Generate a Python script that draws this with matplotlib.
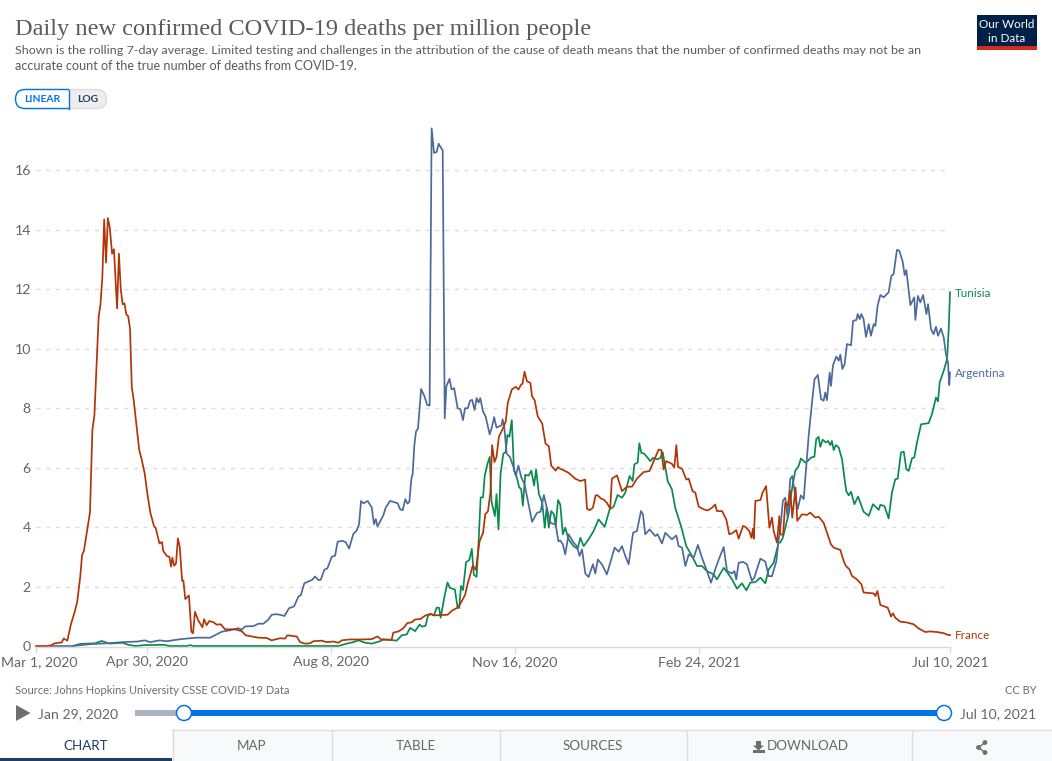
"""
Daily new confirmed COVID-19 deaths per million people (Our World in Data look).
Values read off the reference picture.
"""

import matplotlib
matplotlib.use("Agg")
import matplotlib.pyplot as plt
from matplotlib.patches import FancyBboxPatch, Rectangle, Circle, Polygon
from matplotlib.transforms import ScaledTranslation

# ---------------------------------------------------------------------------
# Data: days since Mar 1, 2020 and deaths per million
# ---------------------------------------------------------------------------

france_days = [0, 6, 8.6, 10, 14, 15, 17, 19, 21, 22.4, 24, 25, 26, 27.5, 29.3, 30, 30.6, 31.7, 33, 34,
               35, 36, 37, 38, 39, 40, 41.3, 42.3, 44, 45, 46, 47, 48, 49, 50, 51, 52, 53, 54.6, 56,
               57.4, 59, 60.4, 62, 64, 65, 67, 68.4, 69, 71, 72.4, 73.3, 74, 75, 76, 77, 78, 79.3, 80, 81,
               83, 84.3, 85.2, 86.3, 88, 90.3, 91.2, 92.6, 94, 96.3, 98, 100.3,
               102.6, 108, 111.6, 113.8, 117.1, 120.7, 125.2, 127.9, 132.4, 135.2, 136.4, 141.5, 143.3, 146, 148.7,
               150.5, 155, 157.8, 161.4, 164.1, 165.9, 170.4, 176.8, 182.2, 185.3, 187.6, 193, 193.9, 196.7, 199.4,
               201.5, 203.9, 205.7, 208.6, 211.4, 214.1, 216, 223.3, 226, 228.8, 230.6, 232.8, 234.3, 236.1,
               237, 238.7, 240.7, 242.6, 243.8, 245.3, 246.6, 247.5, 248.8, 249.9, 251.2, 253, 254.9, 256, 258.2,
               260.4, 261.8, 263.3, 264, 265.1, 266.4, 268.3, 269.2, 270.6, 272.3, 274.7, 276.5, 278.3, 279.6, 282, 283.3,
               284.5, 285.4, 289, 292.6, 295.4, 298, 299, 300.4, 302.2, 303.7, 304.8, 306.6, 308, 309.8, 311.6,
               312.5, 315.3, 318, 320.7, 323.4, 326.1, 329.7, 333, 335.2, 337.9, 339.3, 340.6, 342, 345.1, 346.4,
               347.5, 348.4, 350.6, 352.9, 354.2, 356.3, 357.8, 359.6, 362.3, 364.5, 366.8, 368.6, 369.5, 372.3,
               374.6, 376.2, 377.7, 380, 381.3, 383.7, 384.9, 387.1, 388.2, 389.1, 389.5, 390.4, 393.1, 394.3,
               396.2, 398, 399.4, 400.3, 402.1, 403.4,
               403.9, 405.4, 406.6, 407.9, 409.3, 410.4, 412.2, 413.1, 415.7, 418.4, 420.2, 422.9, 424.7, 427.4,
               429.2, 431.4, 432.9, 436.5, 438.3, 439.5, 441.4, 442.8, 445.5, 447.9, 449.1, 454.6, 455.5, 456.6,
               458.2, 462.2, 464, 465.1, 466.3, 469, 472.7, 476.3, 479, 482.6, 485, 489, 492.6, 495, 496]
france_vals = [0, 0, .03, .09, .12, .25, .18, .74, 1.15, 1.5, 2.33, 3.06, 3.2, 3.8, 4.5, 6.03, 7.27, 7.77, 9.6, 11.08,
               11.5, 12.4, 14.35, 12.9, 14.4, 14.1, 13.2, 13.35, 11.36, 13.2, 12.0, 11.5, 11.53, 11.16, 11.1, 10.7, 8.7, 8.28, 7.4, 6.6,
               6.26, 5.8, 5.14, 4.5, 4.04, 3.96, 3.45, 3.5, 3.2, 3.03, 3.0, 2.67, 2.97, 2.7, 2.78, 3.62, 3.34, 2.19, 2.2, 1.58,
               1.7, .48, .43, 1.15, .87, .63, .9, .7, .84, .8, .72, .73,
               .56, .56, .5, .36, .32, .28, .27, .19, .26, .25, .36, .32, .13, .08, .09,
               .16, .18, .13, .15, .11, .19, .22, .22, .23, .32, .21, .21, .45, .49, .6,
               .77, .8, .89, .91, 1.03, 1.08, 1.03, 1.05, 1.2, 1.29, 1.46, 1.71, 2.11, 2.5,
               2.71, 2.56, 3.52, 3.81, 4.43, 4.54, 5.17, 6.76, 6.19, 6.36, 7.04, 7.27, 7.55, 8.17, 8.63,
               8.72, 8.63, 8.8, 8.82, 9.23, 8.91, 8.85, 8.4, 8.27, 7.72, 7.49, 6.81, 6.72, 6.07, 5.9, 6.02,
               5.96, 5.94, 5.83, 5.63, 5.55, 5.6, 4.62, 4.57, 4.65, 5.07, 5.07, 4.96, 4.93, 4.82, 4.62,
               5.63, 5.74, 5.21, 5.36, 5.36, 5.63, 5.85, 5.89, 6.22, 6.61, 6.59, 5.94, 6.22, 6.13, 6.0,
               6.76, 6.03, 5.96, 5.6, 5.63, 5.21, 5.16, 4.69, 4.6, 4.56, 4.65, 4.76, 4.54, 4.54,
               4.26, 3.76, 3.79, 3.9, 3.61, 4.04, 4.01, 3.87, 3.64, 3.95, 3.61, 4.88, 4.91, 5.16,
               5.38, 3.98, 4.32, 3.87, 3.48, 4.37,
               3.76, 3.74, 4.83, 4.71, 5.22, 4.32, 5.33, 4.21, 4.43, 4.41, 4.49, 4.32, 4.35, 4.15,
               3.82, 3.42, 3.31, 3.23, 2.86, 2.69, 2.58, 2.36, 2.24, 2.08, 1.8, 1.77, 1.68, 1.85,
               1.38, 1.29, .99, 1.1, .95, .82, .79, .73, .59, .47, .49, .47, .43, .37, .37]

argentina_days = [7.6, 20, 29, 38, 47, 55, 59, 62, 67, 71, 75, 80, 87, 94.5, 98, 100.8,
                  102.6, 105.3, 109.8, 111.6, 113.5, 118, 120.7, 123.4, 126.1, 127.9, 130.6, 132.4, 134.8, 137.3,
                  140, 142.4, 143.8, 145.6, 147.8, 150, 151.4, 153.2, 154.5, 156.5, 158.1, 160.5, 162.3, 163.7,
                  166.3, 168.1, 169.9, 172.2, 174, 175.3, 176.4, 177.7, 180, 182.2, 183.4, 184.4, 185.3, 188.5,
                  189.8, 192.1, 193.9, 196.3,
                  197.6, 199, 200.4, 201.6, 202.6, 203.7, 204.4, 205.3, 206.2, 207.3, 209, 210.8, 212.3, 213.6,
                  214.7, 216, 217.4, 218.5, 220, 220.7, 221.8, 222.7, 224.4, 225.5, 226.9, 228.8, 230.3, 231.7,
                  232.8, 234.3, 235.6, 236.7, 238, 239.1, 240.2, 241.1, 242.6, 244, 246.2, 247.5, 248.6, 249.9,
                  252.7, 253.2, 254.1, 255.4, 257.2, 259.1, 260.4, 261.8, 263.3, 265.1, 267.3, 269.2, 271.9, 273.8,
                  275.6, 277.4, 279.3, 282, 283.5,
                  284.5, 285.9, 287.2, 289, 291.7, 293.5, 295, 296.3, 298.1, 299.9, 302.2, 303.5, 304.9, 307.1,
                  309.8, 314, 316.2, 318, 319.8, 321.6, 324, 326.1, 328.3, 329.4, 330.6, 333, 336.1, 337.3, 339.7,
                  341.5, 345.1, 347.5, 348.7, 350.6, 352.4, 354.2, 356.9, 359.2, 361.4, 364.1, 366.3, 368.6, 370.5,
                  373.2, 375, 377.7, 379, 380, 381.3, 383.7, 385.8, 388.5, 389.8, 393.1, 395.8, 397.6, 399.4, 401.8, 403,
                  403.9, 405.3, 406.6, 407.9, 409.3, 410.4, 411.5, 413.3, 415.1, 416.6, 418, 419.3, 421.1, 422.5,
                  424.3, 426, 427.4, 428.3, 429.2, 430.7, 431.4, 432.5, 434.3, 435.6, 436.5, 437.6, 438.8, 440.1,
                  442.3, 443.4, 445.2, 445.9, 447, 447.9, 449.1, 450.4, 451.9, 453.1, 454.6, 455.5, 456.7, 458.2,
                  460, 462.7, 464.2, 465.4, 467.2, 468.5, 470.3, 471.4, 472.3, 474.5, 476.6, 477.2, 478.6, 479.9,
                  481.4, 483.2, 484.1, 485.7, 487.1, 488.4, 489.5, 491.1, 492.6, 493.8, 494.9, 495.6, 496]
argentina_vals = [0, 0, .06, .09, .13, .15, .19, .13, .19, .16, .2, .24, .28, .28, .39, .48,
                  .5, .53, .6, .55, .66, .67, .75, .75, .89, 1.05, 1.07, 1.05, 1.01, 1.27,
                  1.33, 1.66, 1.72, 2.11, 2.17, 2.23, 2.34, 2.22, 2.23, 2.57, 2.61, 3.0, 3.04, 3.51,
                  3.54, 3.49, 3.28, 3.77, 3.88, 4.1, 4.88, 4.8, 4.88, 4.66, 4.1, 4.27, 4.02, 4.4,
                  4.66, 4.88, 4.85, 4.8,
                  4.6, 4.57, 4.94, 4.79, 4.85, 5.62, 5.79, 6.75, 7.21, 7.32, 8.65, 8.4, 8.11, 8.09,
                  17.42, 16.59, 16.62, 16.9, 16.74, 16.68, 7.66, 8.74, 8.99, 8.63, 8.68, 8.0, 7.97, 7.6,
                  8.0, 8.0, 8.26, 8.28, 7.94, 8.34, 8.19, 8.34, 7.89, 7.72, 7.12, 7.38, 7.7, 7.35,
                  7.43, 7.63, 7.38, 6.47, 6.36, 6.02, 5.73, 6.07, 5.68, 5.45, 4.77, 4.18, 4.48, 4.52,
                  5.08, 4.6, 4.14, 4.09, 3.52,
                  3.55, 3.42, 3.08, 3.76, 3.48, 3.36, 3.03, 3.25, 2.44, 2.32, 2.75, 2.44, 2.91, 2.75,
                  2.41, 3.31, 3.17, 3.36, 3.03, 2.75, 3.81, 3.87, 4.54, 4.43, 3.76, 3.92, 3.7, 3.76, 3.45,
                  3.81, 3.59, 3.72, 3.36, 3.31, 2.69, 3.08, 2.97, 3.4, 2.97, 2.52, 2.13, 2.58, 2.91,
                  3.33, 2.52, 2.44, 2.52, 2.24, 2.8, 2.83, 2.75, 2.19, 2.3, 2.94, 2.84, 2.35, 2.35, 2.86, 3.59,
                  3.93, 4.88, 4.99, 4.32, 5.61, 5.72, 5.27, 4.6, 5.07, 4.94, 6.06, 7.07, 8.19, 8.98,
                  9.12, 8.31, 8.25, 8.53, 8.27, 9.2, 8.75, 9.45, 9.74, 9.6, 9.8, 9.32, 9.48, 10.16,
                  10.12, 10.94, 10.97, 11.17, 11, 11.17, 11, 10.4, 10.83, 10.44, 10.83, 10.77, 11.45, 11.81,
                  11.73, 11.9, 12.46, 12.51, 13.33, 13.3, 12.94, 12.48, 12.65, 11.47, 11.73, 10.97, 11.78, 11.56,
                  11.81, 11.17, 11.5, 10.66, 10.49, 10.74, 10.44, 10.68, 10.38, 9.82, 9.54, 8.78, 9.2]

tunisia_days = [20, 24, 32, 35.6, 40, 47, 50, 54, 59, 69, 72.7, 81.8, 83.6, 85.4, 105,
                164.1, 168.6, 172.2, 175, 178.6, 182.2, 186.7, 188.5, 195.7, 198.5, 201.2, 203, 205.7,
                208.2, 209.5, 211.4, 212.6, 214.1, 216, 217.4, 218.7, 219.6, 221.8,
                223.3, 224.6, 227.3, 228.8, 229.7, 230.6, 231.7, 233.4, 235.2, 236.5, 237.6, 239.1, 240.2, 241.3,
                242.6, 243.5, 245, 246.2, 247.2, 249, 249.9, 251, 252.1, 253.6, 254.9, 255.8, 256.9, 258.2, 259.4,
                260.9, 262.2, 263.3, 264.2, 265.5, 267.3, 268.8, 270.3, 271.4, 272.9, 274.7, 276.1, 277.1, 278.3,
                279.6, 281.1, 282, 283.3,
                284.5, 285.9, 287.2, 289, 291.7, 293.9, 295.4, 297.2, 299.9, 302.6, 305.3, 308.6, 311.3, 313.5,
                315.6, 318, 319.8, 322.1, 323.8, 324.7, 326.5, 327.4, 328.5, 330.1, 333.4, 334.8, 337.3, 338.8,
                340.1, 342.8, 345.1, 346.9, 350, 352.9, 356, 358.7, 361.4, 364.1, 367.7, 369.5, 373.2, 375.9,
                377.7, 380.4, 383.1, 385.5, 387.6, 390.4, 393.1, 395.8, 397.6, 400.3, 403,
                403.9, 405.3, 408.4, 410.2, 412, 413.9, 415.1, 417.5, 418.9, 420.5, 422.4, 423.4, 424.7, 425.6,
                426.9, 428.7, 429.8, 431, 431.9, 432.9, 434.1, 435.6, 437.4, 438.8, 439.7, 441, 442.3, 444.1,
                446.1, 449.1, 451.9, 454.2, 457.3, 458.2, 460.4, 462.7, 464.5, 466.3, 467.6, 469.4, 470.9, 472.3,
                473.6, 475.4, 476.6, 478.1, 480.3, 484.4, 486.2, 488.4, 489.5, 490.4, 492.6, 494.4, 495.3, 496]
tunisia_vals = [0, .07, .09, .17, .08, .11, .04, 0, .03, .04, 0, 0, .03, 0, 0,
                0, .08, .13, .19, .11, .08, .16, .23, .18, .36, .39, .61, .5,
                .72, .65, .68, 1.0, 1.08, 1.03, 1.29, 1.29, .95, 1.71,
                2.14, 1.96, 1.9, 1.29, 1.28, 2.02, 1.88, 2.82, 2.9, 3.27, 2.39, 2.33, 3.54, 5.0,
                5.0, 5.73, 6.13, 6.36, 4.86, 4.37, 5.11, 3.92, 5.79, 6.47, 6.53, 7.1, 7.04, 7.6, 5.9,
                5.68, 5.34, 5.28, 4.72, 5.76, 5.73, 5.9, 5.4, 5.94, 5.11, 4.83, 3.98, 4.66, 3.98,
                4.54, 4.43, 4.03, 4.91,
                4.76, 3.76, 3.98, 3.59, 3.36, 3.27, 3.64, 3.36, 3.59, 3.87, 4.26, 4.01, 4.6, 4.69,
                5.08, 4.99, 5.16, 5.72, 5.55, 6.11, 6.17, 6.82, 6.5, 6.47, 6.22, 6.33, 6.28, 6.33,
                6.52, 5.55, 5.27, 4.65, 4.04, 3.36, 3.03, 2.69, 2.69, 2.52, 2.41, 2.24, 2.63, 2.41,
                2.24, 1.93, 2.11, 1.87, 2.13, 2.15, 2.3, 2.11, 2.58, 2.8, 3.48,
                3.48, 3.65, 4.43, 5.27, 5.89, 6.06, 6.31, 6.17, 6.23, 6.34, 6.37, 6.96, 7.04, 6.7,
                6.94, 6.85, 6.9, 6.76, 6.9, 6.59, 6.76, 6.68, 6.29, 5.61, 5.22, 5.07, 5.19, 4.77,
                5.03, 4.52, 4.38, 4.77, 4.58, 4.75, 4.71, 4.29, 5.16, 5.61, 5.63, 6.51, 6.54, 5.95,
                5.89, 6.32, 6.34, 6.85, 7.46, 7.5, 7.8, 8.36, 8.23, 8.87, 9.26, 9.65, 10.66, 11.9]

y_ticks = [0, 2, 4, 6, 8, 10, 12, 14, 16]
x_tick_days = [0, 60, 160, 260, 360, 496]
x_tick_labels = ["Mar 1, 2020", "Apr 30, 2020", "Aug 8, 2020", "Nov 16, 2020", "Feb 24, 2021", "Jul 10, 2021"]

FRANCE = "#b13507"
ARGENTINA = "#4c6a9c"
TUNISIA = "#0b8a4d"
GREY = "#5b5b5b"
TICK_GREY = "#666666"
BLUE = "#0073e6"
NAVY = "#1d3d63"

plt.rcParams['font.family'] = ['Lato', 'DejaVu Sans']

W, H = 1052, 761
fig = plt.figure(figsize=(W / 100, H / 100), dpi=100)

# overlay in pixel coordinates for the page furniture
page = fig.add_axes([0, 0, 1, 1])
page.set_xlim(0, W)
page.set_ylim(H, 0)
page.axis('off')

# ---------------------------------------------------------------------------
# Chart
# ---------------------------------------------------------------------------
PX_PER_UNIT = 29.72
X0, X1, Y0, YTOP = 36, 950, 646, 120
ax = fig.add_axes([X0 / W, (H - Y0) / H, (X1 - X0) / W, (Y0 - YTOP) / H])
ax.patch.set_alpha(0)
ax.set_xlim(0, 496)
ax.set_ylim(0, (Y0 - YTOP) / PX_PER_UNIT)
for s in ['top', 'right', 'left']:
    ax.spines[s].set_visible(False)
ax.spines['bottom'].set_color('#d9d9d9')
ax.spines['bottom'].set_linewidth(1.0)
ax.spines['bottom'].set_position(('outward', 1))

ax.set_yticks(y_ticks)
ax.set_xticks(x_tick_days)
ax.set_xticklabels(x_tick_labels)
ax.tick_params(axis='y', length=0, pad=3.8, labelsize=10.2, labelcolor=TICK_GREY)
ax.tick_params(axis='x', length=4, width=1, color='#d9d9d9', pad=2.2, labelsize=10.2, labelcolor=TICK_GREY)
ax.yaxis.grid(True, color='#dddddd', linestyle=(0, (3, 4)), linewidth=1.0)
ax.set_axisbelow(True)
# the zero line has no dashes
ax.get_ygridlines()[0].set_visible(False)

# first label sits a little right of its tick so it stays on the page
first = ax.get_xticklabels()[0]
first.set_transform(first.get_transform() + ScaledTranslation(3.5 / 100, 0, fig.dpi_scale_trans))

ax.plot(tunisia_days, tunisia_vals, color=TUNISIA, lw=1.25, clip_on=False, solid_joinstyle='round')
ax.plot(argentina_days, argentina_vals, color=ARGENTINA, lw=1.25, clip_on=False, solid_joinstyle='round')
ax.plot(france_days, france_vals, color=FRANCE, lw=1.25, clip_on=False, solid_joinstyle='round')

# series labels
for name, val, col in [("Tunisia", tunisia_vals[-1], TUNISIA),
                       ("Argentina", argentina_vals[-1], ARGENTINA),
                       ("France", france_vals[-1], FRANCE)]:
    ax.annotate(name, xy=(496, val), xytext=(3.4, -0.7), textcoords='offset points',
                color=col, fontsize=8.4, va='center', ha='left', annotation_clip=False)

# ---------------------------------------------------------------------------
# Header
# ---------------------------------------------------------------------------
page.text(15, 34.5, "Daily new confirmed COVID-19 deaths per million people",
          family=['Liberation Serif'], fontsize=17.6, color=GREY, va='baseline')
page.text(15, 53.5, "Shown is the rolling 7-day average. Limited testing and challenges in the attribution "
          "of the cause of death means that the number of confirmed deaths may not be an",
          fontsize=8.97, color=GREY, va='baseline')
page.text(15, 69.5, "accurate count of the true number of deaths from COVID-19.",
          fontsize=9.07, color=GREY, va='baseline')

# logo
page.add_patch(Rectangle((976.5, 15), 60.5, 31, fc='#002147', ec='none'))
page.add_patch(Rectangle((976.5, 46), 60.5, 4, fc='#d42b21', ec='none'))
page.text(1006.7, 24.7, "Our World", color='white', fontsize=8.4, ha='center', va='center')
page.text(1006.7, 38, "in Data", color='white', fontsize=8.4, ha='center', va='center')

# linear / log toggle
toggle_l = FancyBboxPatch((15.5, 89.5), 91, 19, boxstyle="round,pad=0,rounding_size=9.5",
                          fc='#eeeeee', ec='#dddddd', lw=1)
page.add_patch(toggle_l)
toggle_on = FancyBboxPatch((15.5, 89.5), 80, 19, boxstyle="round,pad=0,rounding_size=9.5",
                           fc='white', ec=BLUE, lw=1)
page.add_patch(toggle_on)
toggle_on.set_clip_path(Rectangle((10, 85), 58.7, 30, transform=page.transData))
page.plot([68.5, 68.5], [89.5, 108.5], color=BLUE, lw=1)
page.text(42.3, 99.5, "LINEAR", color=BLUE, fontsize=7.4, fontweight='bold', ha='center', va='center')
page.text(87.7, 99.5, "LOG", color=NAVY, fontsize=7.4, fontweight='bold', ha='center', va='center')

# ---------------------------------------------------------------------------
# Footer
# ---------------------------------------------------------------------------
page.text(15, 690, "Source: Johns Hopkins University CSSE COVID-19 Data", fontsize=8.0,
          color='#6e6e6e', va='center')
page.text(1037, 690, "CC BY", fontsize=8.0, color='#6e6e6e', va='center', ha='right')

# timeline slider
page.add_patch(Polygon([(16, 705), (30.5, 713), (16, 721)], closed=True, fc='#6e6e6e', ec='none'))
page.text(38.5, 714, "Jan 29, 2020", fontsize=10.1, color=TICK_GREY, va='center')
page.text(1036, 714, "Jul 10, 2021", fontsize=10.1, color=TICK_GREY, va='center', ha='right')
page.add_patch(Rectangle((134.5, 710), 50, 6, fc='#a9b3c1', ec='none'))
page.add_patch(Rectangle((184, 710), 760, 6, fc=BLUE, ec='none'))
for cx in [184, 944]:
    page.add_patch(Circle((cx, 713), 7.5, fc='white', ec=BLUE, lw=1.1, zorder=3))

# tabs
page.add_patch(Rectangle((172, 730), W - 172, 31, fc='#f8f9fa', ec='none'))
page.plot([172, W], [730, 730], color='#dddddd', lw=1)
for sx in [172.5, 331.5, 499.5, 686.5, 911.5]:
    page.plot([sx, sx], [730, 761], color='#dddddd', lw=1)
page.add_patch(Rectangle((0, 758), 172, 3, fc=NAVY, ec='none'))
for label, tx, col in [("CHART", 86, NAVY), ("MAP", 252, TICK_GREY), ("TABLE", 415.5, TICK_GREY),
                       ("SOURCES", 593, TICK_GREY), ("DOWNLOAD", 807.5, TICK_GREY)]:
    page.text(tx, 746.5, label, fontsize=9.6, color=col, ha='center', va='center')

# download icon
page.add_patch(Polygon([(756, 741), (761, 741), (761, 745.5), (764, 745.5), (758.5, 750.5),
                        (753, 745.5), (756, 745.5)], closed=True, fc='#6e6e6e', ec='none'))
page.add_patch(Rectangle((752.5, 750), 12, 3, fc='#6e6e6e', ec='none'))

# share icon
page.plot([985, 978.5, 985], [742.5, 747.5, 752.5], color='#6e6e6e', lw=1)
for cx, cy in [(985, 742.5), (978.5, 747.5), (985, 752.5)]:
    page.add_patch(Circle((cx, cy), 2.4, fc='#6e6e6e', ec='none'))

fig.savefig("out.png", dpi=100)
